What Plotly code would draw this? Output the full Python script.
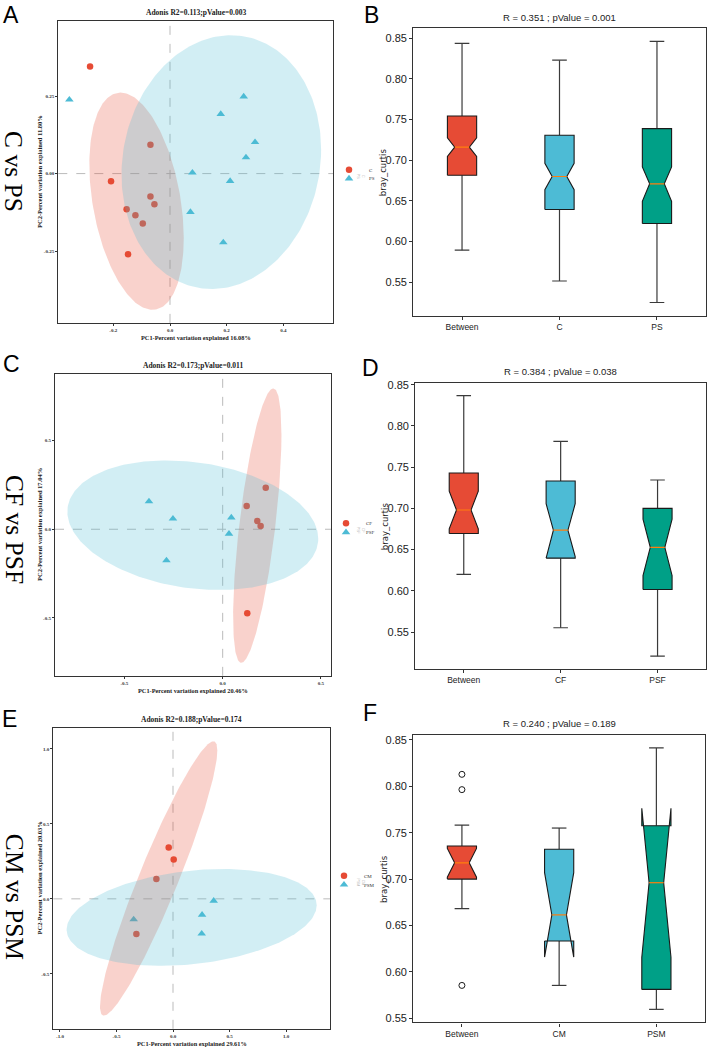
import numpy as np
import plotly.graph_objects as go

W, H = 707, 1050

# ---------------- PCoA scores (PC1, PC2) ----------------
A_C_PC1 = [-0.282, -0.208, -0.069, -0.069, -0.055, -0.153, -0.122, -0.096, -0.148]
A_C_PC2 = [0.345, -0.025, 0.093, -0.074, -0.099, -0.115, -0.134, -0.161, -0.260]
A_PS_PC1 = [-0.355, 0.260, 0.179, 0.300, 0.268, 0.079, 0.212, 0.072, 0.188]
A_PS_PC2 = [0.238, 0.248, 0.192, 0.101, 0.052, 0.003, -0.024, -0.124, -0.222]

C_CF_PC1 = [0.219, 0.122, 0.176, 0.193, 0.125]
C_CF_PC2 = [0.234, 0.131, 0.047, 0.019, -0.474]
C_PSF_PC1 = [-0.375, -0.253, 0.044, 0.032, -0.286]
C_PSF_PC2 = [0.157, 0.060, 0.066, -0.026, -0.176]

E_CM_PC1 = [-0.038, 0.006, -0.147, -0.324]
E_CM_PC2 = [0.343, 0.263, 0.133, -0.235]
E_PSM_PC1 = [-0.348, 0.360, 0.257, 0.254]
E_PSM_PC2 = [-0.137, -0.013, -0.106, -0.232]

# confidence ellipses: centre PC1, centre PC2, half-extent PC1, half-extent PC2, correlation
A_C_ELLIPSE = [-0.118, -0.089, 0.1665, 0.350, -0.339]
A_PS_ELLIPSE = [0.181, 0.037, 0.352, 0.4087, 0.097]
C_CF_ELLIPSE = [0.176, 0.0206, 0.1229, 0.775, 0.662]
C_PSF_ELLIPSE = [-0.152, 0.023, 0.638, 0.366, -0.209]
E_CM_ELLIPSE = [-0.127, 0.136, 0.519, 0.915, 0.933]
E_PSM_ELLIPSE = [0.165, -0.124, 1.106, 0.323, 0.25]

PCOA_TITLES = ["Adonis R2=0.113;pValue=0.003", "Adonis R2=0.173;pValue=0.011",
               "Adonis R2=0.188;pValue=0.174"]
PC1_LABELS = ["PC1-Percent variation explained 16.08%", "PC1-Percent variation explained 20.46%",
              "PC1-Percent variation explained 29.61%"]
PC2_LABELS = ["PC2-Percent variation explained 11.80%", "PC2-Percent variation explained 17.04%",
              "PC2-Percent variation explained 20.03%"]
COMPARISONS = ["C vs PS", "CF vs PSF", "CM vs PSM"]

# ---------------- ANOSIM boxplots (bray_curtis) ----------------
B_GROUPS = ["Between", "C", "PS"]
B_Q1 = [0.6816, 0.6394, 0.6223]
B_MED = [0.716, 0.680, 0.671]
B_Q3 = [0.7542, 0.7307, 0.7388]
B_LO = [0.5895, 0.5517, 0.5253]
B_HI = [0.8435, 0.8228, 0.846]
B_NOTCH_LO = [0.7046, 0.6637, 0.6495]
B_NOTCH_HI = [0.7276, 0.6962, 0.6917]
B_OUTLIERS = [[], [], []]

D_GROUPS = ["Between", "CF", "PSF"]
D_Q1 = [0.6696, 0.6396, 0.6016]
D_MED = [0.698, 0.6736, 0.6528]
D_Q3 = [0.7428, 0.7332, 0.700]
D_LO = [0.620, 0.5552, 0.5208]
D_HI = [0.8368, 0.7812, 0.7344]
D_NOTCH_LO = [0.6752, 0.6416, 0.6186]
D_NOTCH_HI = [0.7208, 0.7056, 0.6870]
D_OUTLIERS = [[], [], []]

F_GROUPS = ["Between", "CM", "PSM"]
F_Q1 = [0.700, 0.6332, 0.5811]
F_MED = [0.7175, 0.6614, 0.6961]
F_Q3 = [0.7357, 0.7321, 0.7575]
F_LO = [0.6682, 0.5854, 0.5596]
F_HI = [0.7582, 0.755, 0.8414]
F_NOTCH_LO = [0.702, 0.6159, 0.6158]
F_NOTCH_HI = [0.733, 0.7069, 0.7764]
F_OUTLIERS = [[0.8129, 0.7964, 0.5854], [], []]

BOX_TITLES = ["R = 0.351 ; pValue = 0.001", "R = 0.384 ; pValue = 0.038",
              "R = 0.240 ; pValue = 0.189"]
BOX_YTICKS = [0.55, 0.60, 0.65, 0.70, 0.75, 0.80, 0.85]

# ---------------- style ----------------
RED = "#E64B35"
BLUE = "#4DBBD5"
TEAL = "#00A087"
BOX_COLORS = [RED, BLUE, TEAL]
SERIF = "Liberation Serif, Times New Roman, serif"
SANS = "Liberation Sans, Arial, sans-serif"


def px(x):
    return x / W


def py(y):
    return 1 - y / H


def ellipse_xy(p, n=240):
    cx, cy, hx, hy, r = p
    t = np.linspace(0, 2 * np.pi, n)
    x = cx + hx * np.cos(t)
    y = cy + hy * (r * np.cos(t) + np.sqrt(1 - r * r) * np.sin(t))
    return x, y


def note(text, x, y, size, family, color="#222222", angle=0, weight=None):
    f = dict(family=family, size=size, color=color)
    if weight:
        f["weight"] = weight
    return dict(text=text, x=px(x), y=py(y), xref="paper", yref="paper", showarrow=False,
                xanchor="center", yanchor="middle", textangle=angle, font=f)


fig = go.Figure()
annotations = []
shapes = []
layout = {}

pcoa_panels = [
    dict(ax="", dom_x=(58.3, 333.3), dom_y=(17.3, 320.7), xr=[-0.394, 0.576], yr=[-0.481, 0.491],
         xt=[-0.2, 0.0, 0.2, 0.4], xtt=["-0.2", "0.0", "0.2", "0.4"],
         yt=[-0.25, 0.0, 0.25], ytt=["-0.25", "0.00", "0.25"],
         g1=("C", A_C_PC1, A_C_PC2, A_C_ELLIPSE), g2=("PS", A_PS_PC1, A_PS_PC2, A_PS_ELLIPSE),
         legends=("legend", "legend2"), leg_x=329, leg_y=(166.7, 175.5), comp_y=168),
    dict(ax="3", dom_x=(55.0, 331.0), dom_y=(372.3, 675.7), xr=[-0.853, 0.551], yr=[-0.828, 0.876],
         xt=[-0.5, 0.0, 0.5], xtt=["-0.5", "0.0", "0.5"],
         yt=[-0.5, 0.0, 0.5], ytt=["-0.5", "0.0", "0.5"],
         g1=("CF", C_CF_PC1, C_CF_PC2, C_CF_ELLIPSE), g2=("PSF", C_PSF_PC1, C_PSF_PC2, C_PSF_ELLIPSE),
         legends=("legend3", "legend4"), leg_x=326, leg_y=(522.3, 531.3), comp_y=528),
    dict(ax="5", dom_x=(53.3, 330.0), dom_y=(728.3, 1030.7), xr=[-1.059, 1.389], yr=[-0.867, 1.139],
         xt=[-1.0, -0.5, 0.0, 0.5, 1.0], xtt=["-1.0", "-0.5", "0.0", "0.5", "1.0"],
         yt=[-0.5, 0.0, 0.5, 1.0], ytt=["-0.5", "0.0", "0.5", "1.0"],
         g1=("CM", E_CM_PC1, E_CM_PC2, E_CM_ELLIPSE), g2=("PSM", E_PSM_PC1, E_PSM_PC2, E_PSM_ELLIPSE),
         legends=("legend5", "legend6"), leg_x=324, leg_y=(876.7, 885.7), comp_y=898),
]

for k, p in enumerate(pcoa_panels):
    xa, ya = "x" + p["ax"], "y" + p["ax"]
    n1, x1, y1, e1 = p["g1"]
    n2, x2, y2, e2 = p["g2"]
    fig.add_trace(go.Scatter(x=x1, y=y1, mode="markers", name=n1, xaxis=xa, yaxis=ya,
                             marker=dict(symbol="circle", size=6.5, color=RED),
                             legend=p["legends"][0]))
    fig.add_trace(go.Scatter(x=x2, y=y2, mode="markers", name=n2, xaxis=xa, yaxis=ya,
                             marker=dict(symbol="triangle-up", size=7.5, color=BLUE),
                             legend=p["legends"][1]))
    for e, col in ((e1, "rgba(230,75,53,0.25)"), (e2, "rgba(77,187,213,0.25)")):
        ex, ey = ellipse_xy(e)
        fig.add_trace(go.Scatter(x=ex, y=ey, mode="lines", fill="toself", fillcolor=col,
                                 line=dict(width=0), xaxis=xa, yaxis=ya, showlegend=False,
                                 hoverinfo="skip"))
    axcommon = dict(showline=True, linecolor="#333333", linewidth=1.2, mirror=True,
                    ticks="outside", ticklen=2, tickwidth=0.8, tickcolor="#333333",
                    showgrid=False, zeroline=False,
                    tickfont=dict(family=SERIF, size=5, color="#333333", weight=700))
    layout["xaxis" + p["ax"]] = dict(axcommon, domain=[px(p["dom_x"][0]), px(p["dom_x"][1])],
                                     range=p["xr"], tickvals=p["xt"], ticktext=p["xtt"],
                                     anchor=ya)
    layout["yaxis" + p["ax"]] = dict(axcommon, domain=[py(p["dom_y"][1]), py(p["dom_y"][0])],
                                     range=p["yr"], tickvals=p["yt"], ticktext=p["ytt"],
                                     anchor=xa)
    # dashed origin lines
    shapes.append(dict(type="line", xref=xa, yref=ya + " domain", x0=0, x1=0, y0=0, y1=1,
                       line=dict(color="#BBBBBB", width=1, dash="dash"), layer="below"))
    shapes.append(dict(type="line", xref=xa + " domain", yref=ya, x0=0, x1=1, y0=0, y1=0,
                       line=dict(color="#BBBBBB", width=1, dash="dash"), layer="below"))
    cx = (p["dom_x"][0] + p["dom_x"][1]) / 2
    cy = (p["dom_y"][0] + p["dom_y"][1]) / 2
    annotations.append(note(PCOA_TITLES[k], cx, p["dom_y"][0] - 8.5, 7.5, SERIF, weight=700))
    annotations.append(note(PC1_LABELS[k], cx, p["dom_y"][1] + 14.5, 6.3, SERIF, weight=700))
    annotations.append(note(PC2_LABELS[k], 39, cy, 6.5, SERIF, angle=-90, weight=700))
    annotations.append(note(COMPARISONS[k], 14, p["comp_y"], 25.5, SERIF, color="#000000", angle=90))
    for j, lg in enumerate(p["legends"]):
        layout[lg] = dict(x=px(p["leg_x"]), y=py(p["leg_y"][j]), xanchor="left", yanchor="middle",
                          bgcolor="rgba(0,0,0,0)", font=dict(family=SERIF, size=5, color="#333"),
                          tracegroupgap=0, itemwidth=30, borderwidth=0)

box_panels = [
    dict(ax="2", dom_x=(413.3, 705.7), dom_y=(24.4, 313.3), yr=[0.5093, 0.862],
         g=B_GROUPS, q1=B_Q1, med=B_MED, q3=B_Q3, lo=B_LO, hi=B_HI, nlo=B_NOTCH_LO,
         nhi=B_NOTCH_HI, out=B_OUTLIERS),
    dict(ax="4", dom_x=(415.3, 706.0), dom_y=(380.7, 669.0), yr=[0.505, 0.8526],
         g=D_GROUPS, q1=D_Q1, med=D_MED, q3=D_Q3, lo=D_LO, hi=D_HI, nlo=D_NOTCH_LO,
         nhi=D_NOTCH_HI, out=D_OUTLIERS),
    dict(ax="6", dom_x=(413.3, 705.0), dom_y=(735.0, 1024.3), yr=[0.5455, 0.8555],
         g=F_GROUPS, q1=F_Q1, med=F_MED, q3=F_Q3, lo=F_LO, hi=F_HI, nlo=F_NOTCH_LO,
         nhi=F_NOTCH_HI, out=F_OUTLIERS),
]

BOX_HALF = 0.15
NOTCH_HALF = 0.075
CAP_HALF = 0.075

for k, b in enumerate(box_panels):
    xa, ya = "x" + b["ax"], "y" + b["ax"]
    positions = list(range(1, len(b["g"]) + 1))
    for i, pos in enumerate(positions):
        q1, med, q3 = b["q1"][i], b["med"][i], b["q3"][i]
        nlo, nhi = b["nlo"][i], b["nhi"][i]
        lo, hi = b["lo"][i], b["hi"][i]
        # whiskers and caps
        wx = [pos, pos, None, pos, pos, None, pos - CAP_HALF, pos + CAP_HALF, None,
              pos - CAP_HALF, pos + CAP_HALF]
        wy = [q1, lo, None, q3, hi, None, lo, lo, None, hi, hi]
        fig.add_trace(go.Scatter(x=wx, y=wy, mode="lines", line=dict(color="#3a3a3a", width=1.2),
                                 xaxis=xa, yaxis=ya, showlegend=False, hoverinfo="skip"))
        # notched box
        bx = [pos - BOX_HALF, pos + BOX_HALF, pos + BOX_HALF, pos + NOTCH_HALF, pos + BOX_HALF,
              pos + BOX_HALF, pos - BOX_HALF, pos - BOX_HALF, pos - NOTCH_HALF, pos - BOX_HALF,
              pos - BOX_HALF]
        by = [q1, q1, nlo, med, nhi, q3, q3, nhi, med, nlo, q1]
        fig.add_trace(go.Scatter(x=bx, y=by, mode="lines", fill="toself",
                                 fillcolor=BOX_COLORS[i], line=dict(color="#1a1a1a", width=1.1),
                                 xaxis=xa, yaxis=ya, showlegend=False, name=b["g"][i],
                                 hoverinfo="skip"))
        # median
        fig.add_trace(go.Scatter(x=[pos - NOTCH_HALF, pos + NOTCH_HALF], y=[med, med],
                                 mode="lines", line=dict(color="#ff7f0e", width=1.2),
                                 xaxis=xa, yaxis=ya, showlegend=False, hoverinfo="skip"))
        if b["out"][i]:
            fig.add_trace(go.Scatter(x=[pos] * len(b["out"][i]), y=b["out"][i], mode="markers",
                                     marker=dict(symbol="circle-open", size=6,
                                                 color="#1a1a1a", line=dict(width=1)),
                                     xaxis=xa, yaxis=ya, showlegend=False, hoverinfo="skip"))
    axcommon = dict(showline=True, linecolor="#333333", linewidth=1.2, mirror=True,
                    ticks="outside", ticklen=3, tickwidth=1, tickcolor="#333333",
                    showgrid=False, zeroline=False)
    layout["xaxis" + b["ax"]] = dict(axcommon, domain=[px(b["dom_x"][0]), px(b["dom_x"][1])],
                                     range=[0.5, 3.5], tickvals=positions, ticktext=b["g"],
                                     tickfont=dict(family=SANS, size=8.5, color="#222222"),
                                     anchor=ya)
    layout["yaxis" + b["ax"]] = dict(axcommon, domain=[py(b["dom_y"][1]), py(b["dom_y"][0])],
                                     range=b["yr"], tickvals=BOX_YTICKS,
                                     ticktext=["%.2f" % v for v in BOX_YTICKS],
                                     tickfont=dict(family=SANS, size=11, color="#222222"),
                                     anchor=xa)
    cx = (b["dom_x"][0] + b["dom_x"][1]) / 2
    cy = (b["dom_y"][0] + b["dom_y"][1]) / 2
    annotations.append(note(BOX_TITLES[k], cx, b["dom_y"][0] - 11, 9.5, SANS))
    annotations.append(note("bray_curtis", b["dom_x"][0] - 30, cy, 8.5,
                            "DejaVu Sans, sans-serif", angle=-90))
    annotations.append(note("<br>".join(b["g"][1:]), 360, cy + 4, 3.5, SANS,
                            color="#bbbbbb", angle=90))

# panel letters
for letter, (lx, ly) in zip("ABCDEF", [(11, 11.5), (371, 11.5), (11.5, 362.5),
                                        (370.5, 366), (9.5, 719), (370, 713.5)]):
    annotations.append(note(letter, lx, ly, 23, SANS, color="#000000"))

layout.update(dict(width=W, height=H, margin=dict(l=0, r=0, t=0, b=0),
                   paper_bgcolor="white", plot_bgcolor="white",
                   annotations=annotations, shapes=shapes))
fig.update_layout(**layout)

fig.write_html("out.html", config={"displayModeBar": False},
               post_script="document.body.style.margin='0px';")
